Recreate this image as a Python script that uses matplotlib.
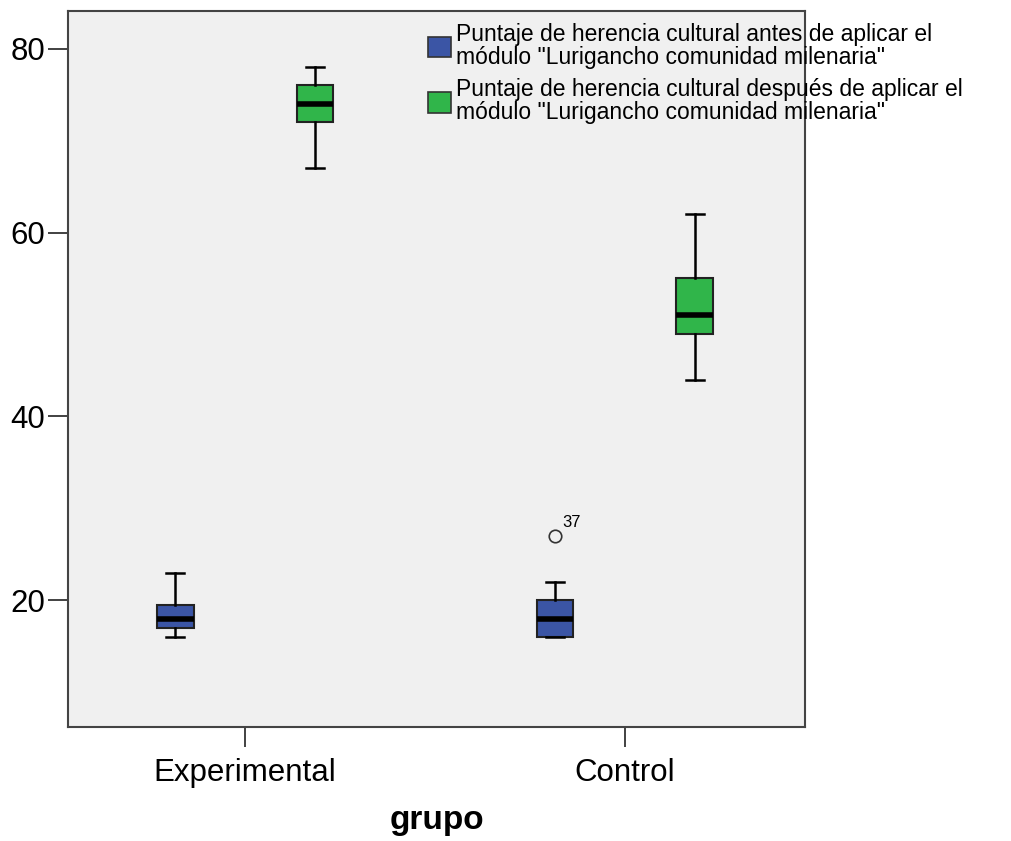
import matplotlib
matplotlib.use("Agg")
import matplotlib.pyplot as plt
from matplotlib.patches import Patch

plt.rcParams['font.family'] = ['Liberation Sans', 'DejaVu Sans']

groups = ["Experimental", "Control"]
series = ['Puntaje de herencia cultural antes de aplicar el\nmódulo "Lurigancho comunidad milenaria"',
          'Puntaje de herencia cultural después de aplicar el\nmódulo "Lurigancho comunidad milenaria"']
colors = ['#3b55a5', '#30b54a']

# stats per series per group: whislo, q1, med, q3, whishi
antes_whislo = [16, 16]
antes_q1 = [17, 16]
antes_med = [18, 18]
antes_q3 = [19.5, 20]
antes_whishi = [23, 22]
antes_fliers = [[], [27]]
antes_flier_ids = [[], ["37"]]

despues_whislo = [67, 44]
despues_q1 = [72, 49]
despues_med = [74, 51]
despues_q3 = [76, 55]
despues_whishi = [78, 62]
despues_fliers = [[], []]

yticks = [20, 40, 60, 80]

W, H = 1011, 841
fig = plt.figure(figsize=(W / 100, H / 100), dpi=100)
ax = fig.add_axes([68 / W, 1 - 727 / H, (805 - 68) / W, (727 - 11) / H])
ax.set_facecolor('#f0f0f0')

offset = 0.184
width = 0.097
all_stats = [
    (antes_whislo, antes_q1, antes_med, antes_q3, antes_whishi, antes_fliers),
    (despues_whislo, despues_q1, despues_med, despues_q3, despues_whishi, despues_fliers),
]
for si, (wl, q1, md, q3, wh, fl) in enumerate(all_stats):
    stats = []
    for gi in range(len(groups)):
        stats.append(dict(whislo=wl[gi], q1=q1[gi], med=md[gi], q3=q3[gi], whishi=wh[gi], fliers=fl[gi]))
    pos = [gi + (-offset if si == 0 else offset) for gi in range(len(groups))]
    ax.bxp(stats, positions=pos, widths=width, patch_artist=True, showfliers=True,
           boxprops=dict(facecolor=colors[si], edgecolor='#222222', linewidth=1.5),
           medianprops=dict(color='black', linewidth=4, solid_capstyle='butt'),
           whiskerprops=dict(color='black', linewidth=1.8),
           capprops=dict(color='black', linewidth=1.8),
           capwidths=width * 0.5,
           flierprops=dict(marker='o', markerfacecolor='none', markeredgecolor='#333333',
                           markersize=9, markeredgewidth=1.2),
           manage_ticks=False)

# outlier labels
for gi in range(len(groups)):
    for v, lab in zip(antes_fliers[gi], antes_flier_ids[gi]):
        ax.annotate(lab, (gi - offset, v), xytext=(5, 4), textcoords='offset points',
                    fontsize=12, ha='left', va='bottom')

ax.set_xlim(-0.466, 1.474)
ax.set_ylim(6.2, 84.1)
ax.set_xticks(range(len(groups)))
ax.set_xticklabels(groups)
ax.set_yticks(yticks)
ax.tick_params(axis='both', length=14.5, width=1.3, color='#333333', labelsize=22.5, pad=2)
ax.tick_params(axis='x', pad=8)
for s in ax.spines.values():
    s.set_color('#444444')
    s.set_linewidth(1.5)
ax.set_xlabel('grupo', fontsize=24, fontweight='bold', labelpad=12)

handles = [Patch(facecolor=c, edgecolor='#333333', linewidth=1.2) for c in colors]
leg = fig.legend(handles, series, loc='upper left', bbox_to_anchor=(428 / W, 1 - 23 / H),
                 frameon=False, fontsize=16.5, handlelength=1.0, handleheight=1.0,
                 handletextpad=0.2, labelspacing=0.4, borderpad=0, borderaxespad=0)
for t in leg.get_texts():
    t.set_linespacing(1.0)

fig.savefig('out.png', dpi=100)
